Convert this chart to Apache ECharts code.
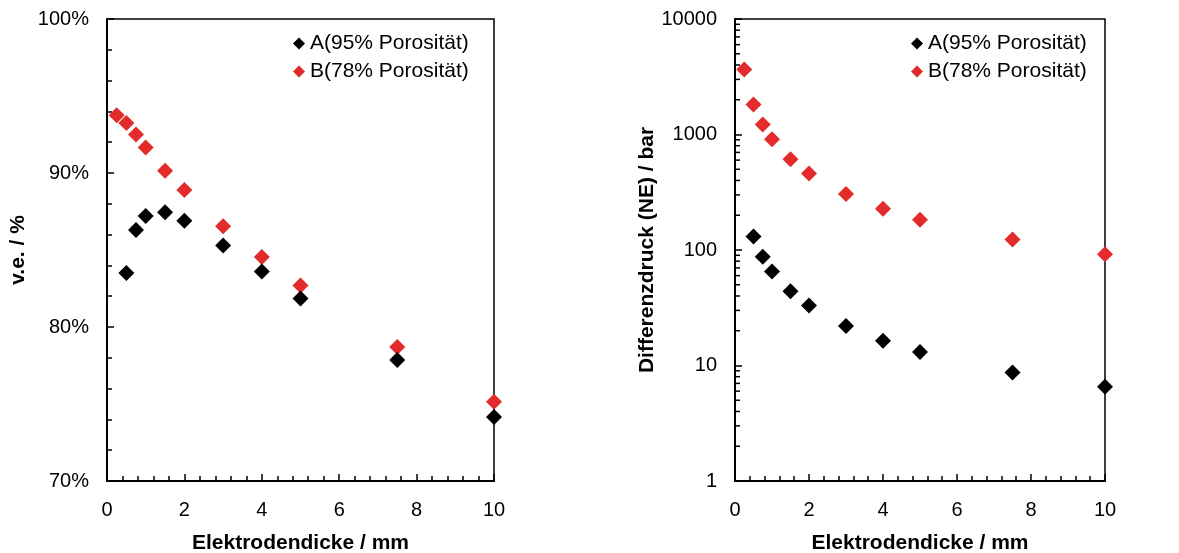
<!DOCTYPE html>
<html><head><meta charset="utf-8">
<script src="https://cdn.jsdelivr.net/npm/echarts@6/dist/echarts.min.js"></script>
<style>html,body{margin:0;padding:0;background:#fff}#c{width:1179px;height:553px}</style>
</head><body><div id="c"></div>
<script>
const nameA = 'A(95% Porosität)';
const nameB = 'B(78% Porosität)';
const thicknessA = [0.5, 0.75, 1, 1.5, 2, 3, 4, 5, 7.5, 10];
const thicknessB = [0.25, 0.5, 0.75, 1, 1.5, 2, 3, 4, 5, 7.5, 10];
const veA = [83.5, 86.3, 87.2, 87.45, 86.9, 85.3, 83.6, 81.85, 77.85, 74.15];
const veB = [93.75, 93.25, 92.5, 91.65, 90.15, 88.9, 86.55, 84.55, 82.7, 78.7, 75.15];
const dpA = [131, 87.5, 65, 44, 33, 22, 16.4, 13.1, 8.7, 6.55];
const dpB = [3650, 1820, 1220, 910, 610, 460, 305, 228, 183, 123, 92];
const logMinorTicks = [2,3,4,5,6,7,8,9,20,30,40,50,60,70,80,90,200,300,400,500,600,700,800,900,2000,3000,4000,5000,6000,7000,8000,9000];

const RED = '#e32b2b';
const FONT = 'Liberation Sans, Arial, sans-serif';
const zip = (xs, ys) => xs.map((x, i) => [x, ys[i]]);

const axisCommon = {
  axisLine: { show: true, onZero: false, lineStyle: { color: '#000', width: 2 } },
  axisTick: { show: true, inside: true, length: 7, lineStyle: { color: '#000', width: 1.5 } },
  splitLine: { show: false },
  axisLabel: { color: '#000', fontFamily: FONT, fontSize: 20 },
  nameTextStyle: { color: '#000', fontFamily: FONT, fontSize: 21, fontWeight: 'bold' }
};

function xAxis(gridIndex) {
  return Object.assign({}, axisCommon, {
    type: 'value', gridIndex, min: 0, max: 10, interval: 2,
    name: 'Elektrodendicke / mm', nameLocation: 'middle', nameGap: 52,
    minorTick: { show: true, splitNumber: 5, length: 5, lineStyle: { color: '#000', width: 1.5 } },
    axisLabel: Object.assign({}, axisCommon.axisLabel, { margin: 19 })
  });
}

const legendCommon = {
  orient: 'vertical', icon: 'diamond', itemWidth: 12, itemHeight: 12, itemGap: 7,
  textStyle: { color: '#000', fontFamily: FONT, fontSize: 21, lineHeight: 21 },
  data: [nameA, nameB], selectedMode: false
};

const symbolStyle = (c) => ({ color: c, opacity: 1 });

const option = {
  animation: false,
  backgroundColor: '#fff',
  grid: [
    { left: 107, top: 19, width: 387, height: 462, show: true, borderColor: '#000', borderWidth: 1.5,
      containLabel: false, outerBoundsMode: 'none' },
    { left: 735, top: 19, width: 370, height: 462, show: true, borderColor: '#000', borderWidth: 1.5,
      containLabel: false, outerBoundsMode: 'none' }
  ],
  legend: [
    Object.assign({ left: 288, top: 28 }, legendCommon),
    Object.assign({ left: 906, top: 28 }, legendCommon)
  ],
  xAxis: [xAxis(0), xAxis(1)],
  yAxis: [
    Object.assign({}, axisCommon, {
      type: 'value', gridIndex: 0, min: 70, max: 100, interval: 10,
      name: 'v.e. / %', nameLocation: 'middle', nameGap: 78,
      minorTick: { show: true, splitNumber: 5, length: 5, lineStyle: { color: '#000', width: 1.5 } },
      axisLabel: Object.assign({}, axisCommon.axisLabel, { margin: 18, formatter: '{value}%' })
    }),
    Object.assign({}, axisCommon, {
      type: 'log', logBase: 10, gridIndex: 1, min: 1, max: 10000, splitNumber: 4,
      name: 'Differenzdruck (NE) / bar', nameLocation: 'middle', nameGap: 76,
      minorTick: { show: false },
      axisLabel: Object.assign({}, axisCommon.axisLabel, { margin: 18, formatter: v => String(Math.round(v)) })
    })
  ],
  series: [
    { name: nameA, type: 'scatter', xAxisIndex: 0, yAxisIndex: 0, symbol: 'diamond', symbolSize: 16,
      itemStyle: symbolStyle('#000'), data: zip(thicknessA, veA), z: 5 },
    { name: nameB, type: 'scatter', xAxisIndex: 0, yAxisIndex: 0, symbol: 'diamond', symbolSize: 16,
      itemStyle: symbolStyle(RED), data: zip(thicknessB, veB), z: 4 },
    { name: nameA, type: 'scatter', xAxisIndex: 1, yAxisIndex: 1, symbol: 'diamond', symbolSize: 16,
      itemStyle: symbolStyle('#000'), data: zip(thicknessA, dpA), z: 5 },
    { name: nameB, type: 'scatter', xAxisIndex: 1, yAxisIndex: 1, symbol: 'diamond', symbolSize: 16,
      itemStyle: symbolStyle(RED), data: zip(thicknessB, dpB), z: 4 },
    { name: 'logMinorTicks', type: 'custom', xAxisIndex: 1, yAxisIndex: 1, silent: true, z: 3,
      data: logMinorTicks.map(v => [0, v]),
      encode: { x: 0, y: 1 },
      renderItem: function (params, api) {
        const p = api.coord([0, api.value(1)]);
        return { type: 'line', shape: { x1: p[0], y1: p[1], x2: p[0] + 5, y2: p[1] },
                 style: { stroke: '#000', lineWidth: 1.5 } };
      }
    }
  ]
};

const chart = echarts.init(document.getElementById('c'), null, { renderer: 'canvas' });
chart.setOption(option);
</script>
</body></html>
